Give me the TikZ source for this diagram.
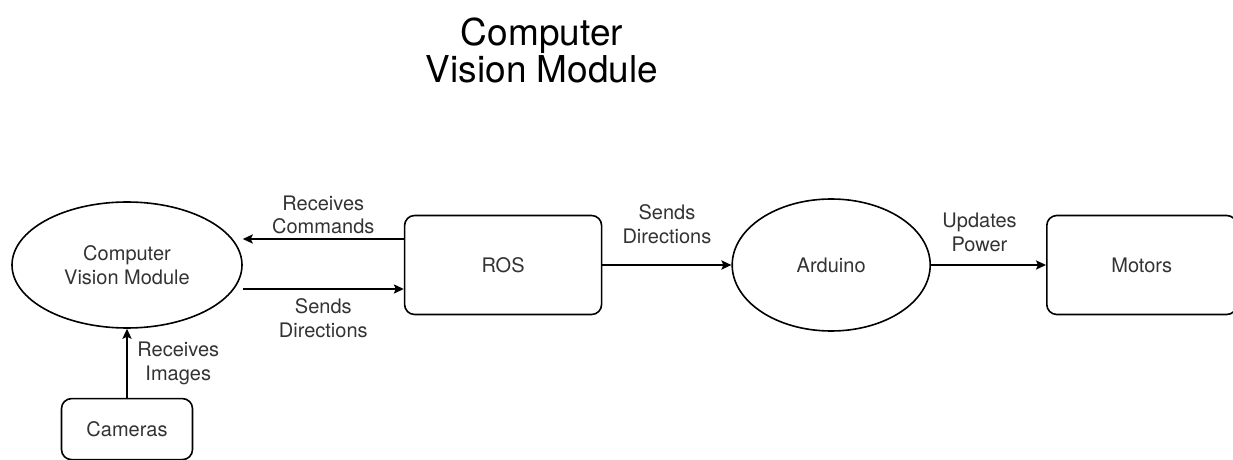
\documentclass[tikz,border=0pt]{standalone}
\usepackage{fontspec}
\setmainfont{TeX Gyre Heros}
\usetikzlibrary{arrows.meta,positioning,shapes.geometric}
\tikzset{
  procnode/.style={ellipse,draw,font=\fontsize{10}{11.8}\selectfont,align=center,text=black!80,inner sep=1pt},
  hwbox/.style={rectangle,draw,rounded corners=5pt,font=\fontsize{10}{11.8}\selectfont,align=center,text=black!80},
  flowlabel/.style={font=\fontsize{10}{11.8}\selectfont,align=center,text=black!80}
}

\begin{document}
\begin{tikzpicture}[x=0.5pt,y=-0.5pt,>={Stealth[length=5pt,width=4.6pt,inset=1pt]},line width=0.8pt]
        \useasboundingbox (0,0) rectangle (1233,460);
        \node[font=\fontsize{18.5}{17.5}\selectfont,align=center] (title) at (542,50) {Computer\\Vision Module};
        \node[procnode,minimum width=115pt,minimum height=63pt] (cvm) at (127,265) {Computer\\Vision Module};
        \node[hwbox,minimum width=98.5pt,minimum height=49.5pt,right=80.5pt of cvm] (ros) {ROS};
        \node[procnode,minimum width=99pt,minimum height=66pt,right=64.5pt of ros] (ard) {Arduino};
        \node[hwbox,minimum width=95pt,minimum height=49.5pt,right=57.5pt of ard] (motors) {Motors};
        \node[hwbox,minimum width=65.5pt,minimum height=30.5pt,below=34.5pt of cvm] (cams) {Cameras};

        \path[->]
          ([yshift=13pt]ros.west) edge node[flowlabel,above,inner sep=2pt] {Receives\\Commands} ([yshift=13pt]cvm.east)
          ([yshift=-12pt]cvm.east) edge node[flowlabel,below=1pt] {Sends\\Directions} ([yshift=-12pt]ros.west)
          (ros) edge node[flowlabel,above=7pt] {Sends\\Directions} (ard)
          (ard) edge node[flowlabel,above=3pt,xshift=-4.5pt] {Updates\\Power} (motors)
          (cams) edge node[flowlabel,right=1.5pt] {Receives\\Images} (cvm);
      \end{tikzpicture}
\end{document}
